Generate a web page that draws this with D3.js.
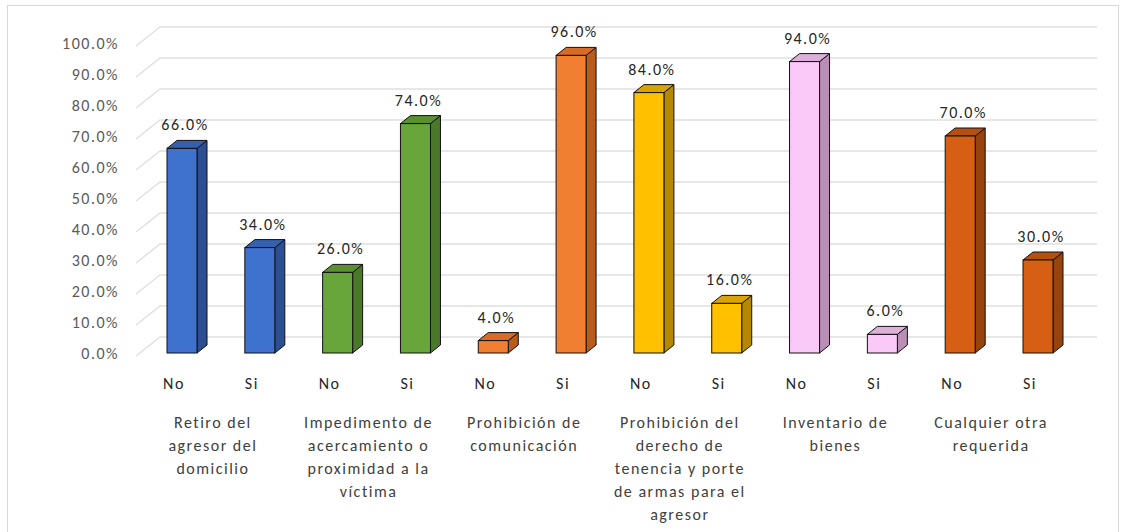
<!DOCTYPE html>
<html lang="es">
<head>
<meta charset="UTF-8">
<title>Medidas de protección</title>
<script src="https://d3js.org/d3.v7.min.js"></script>
<style>
  body { margin: 0; background: #fff; }
  text { font-family: Carlito, Lato, "Open Sans", sans-serif; letter-spacing: 1.5px; }
</style>
</head>
<body>
<svg id="chart" width="1126" height="532"></svg>
<script>
// data
var groups = [
  ["Retiro del", "agresor del", "domicilio"],
  ["Impedimento de", "acercamiento o", "proximidad a la", "víctima"],
  ["Prohibición de", "comunicación"],
  ["Prohibición del", "derecho de", "tenencia y porte", "de armas para el", "agresor"],
  ["Inventario de", "bienes"],
  ["Cualquier otra", "requerida"]
];
var answers = ["No", "Si"];
var values = [66, 34, 26, 74, 4, 96, 84, 16, 94, 6, 70, 30];
var yTicks = [0, 10, 20, 30, 40, 50, 60, 70, 80, 90, 100];

// front / side / top colours per group
var palette = [
  ["#3f72cf", "#2c4f93", "#3560b0"],
  ["#68a63c", "#4a7a29", "#5a9032"],
  ["#f07f31", "#b85c1c", "#d66c25"],
  ["#ffc000", "#b58800", "#d9a400"],
  ["#fac9f8", "#b98fb6", "#dcb0d9"],
  ["#d65f14", "#98420d", "#b55011"]
];

var svg = d3.select("#chart");
var barW = 30, dep = { x: 10, y: -8 };
var wall = { x: 17, y: -16 };

var bars = values.map(function (v, i) {
  return { i: i, g: Math.floor(i / 2), ans: answers[i % 2], v: v };
});

var x = d3.scalePoint().domain(d3.range(values.length)).range([182, 1038]);
var y = d3.scaleLinear().domain([0, 100]).range([353, 43]);

// chart frame
svg.append("rect")
  .attr("x", 7.5).attr("y", 5.5).attr("width", 1111).attr("height", 540)
  .attr("fill", "#fff").attr("stroke", "#d9d9d9");

// gridlines on back wall + left wall
var grid = svg.append("g").attr("stroke", "#e0e0e0").attr("stroke-width", 1.5).attr("fill", "none");
yTicks.forEach(function (t) {
  var yy = y(t);
  grid.append("path")
    .attr("d", "M136," + (yy + 3) + "L160," + (yy + wall.y) + "L1097," + (yy + wall.y));
});

// y axis labels
var axis = svg.append("g")
  .attr("transform", "translate(119,0)")
  .call(d3.axisLeft(y).tickValues(yTicks).tickSize(0).tickPadding(0)
    .tickFormat(function (d) { return d.toFixed(1) + "%"; }));
axis.select(".domain").remove();
axis.selectAll("text")
  .attr("fill", "#595959").style("font-size", "16px")
  .style("font-family", "Carlito, Lato, 'Open Sans', sans-serif");

// 3d bars
var bg = svg.append("g").selectAll("g").data(bars).join("g");
bg.each(function (d) {
  var g = d3.select(this);
  var x0 = x(d.i) - barW / 2, x1 = x0 + barW;
  var y0 = y(0), y1 = y(d.v);
  var c = palette[d.g];
  g.append("path")
    .attr("d", "M" + x1 + "," + y0 + "L" + (x1 + dep.x) + "," + (y0 + dep.y) +
      "L" + (x1 + dep.x) + "," + (y1 + dep.y) + "L" + x1 + "," + y1 + "Z")
    .attr("fill", c[1]).attr("stroke", "#111").attr("stroke-width", 1);
  g.append("path")
    .attr("d", "M" + x0 + "," + y1 + "L" + (x0 + dep.x) + "," + (y1 + dep.y) +
      "L" + (x1 + dep.x) + "," + (y1 + dep.y) + "L" + x1 + "," + y1 + "Z")
    .attr("fill", c[2]).attr("stroke", "#111").attr("stroke-width", 1);
  g.append("rect")
    .attr("x", x0).attr("y", y1).attr("width", barW).attr("height", y0 - y1)
    .attr("fill", c[0]).attr("stroke", "#111").attr("stroke-width", 1);
  g.append("text")
    .attr("x", x(d.i) + 3).attr("y", y1 + dep.y - 10)
    .attr("text-anchor", "middle").attr("fill", "#262626")
    .style("font-size", "16px")
    .text(d.v.toFixed(1) + "%");
});

// No / Si labels
svg.append("g").selectAll("text").data(bars).join("text")
  .attr("x", function (d) { return x(d.i) - 8; })
  .attr("y", 389)
  .attr("text-anchor", "middle").attr("fill", "#262626")
  .style("font-size", "16px")
  .text(function (d) { return d.ans; });

// group labels
svg.append("g").selectAll("text").data(groups).join("text")
  .attr("text-anchor", "middle").attr("fill", "#404040")
  .style("font-size", "16px")
  .each(function (lines, gi) {
    var cx = (x(gi * 2) + x(gi * 2 + 1)) / 2 - 8;
    d3.select(this).selectAll("tspan").data(lines).join("tspan")
      .attr("x", cx)
      .attr("y", function (l, k) { return 428 + k * 23; })
      .text(function (l) { return l; });
  });
</script>
</body>
</html>
